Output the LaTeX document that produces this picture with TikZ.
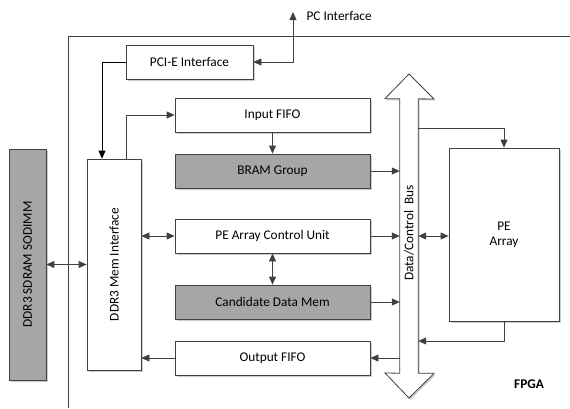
\documentclass[tikz,border=0pt]{standalone}
\usepackage{fontspec}
\setmainfont{Carlito}
\usetikzlibrary{arrows.meta,shadows}
\definecolor{ln}{HTML}{404040}
\definecolor{gfill}{HTML}{A6A6A6}
\begin{document}
\begin{tikzpicture}[x=1pt,y=-1pt,
  font=\fontsize{13.3}{15}\selectfont,
  box/.style={draw=ln,line width=0.8pt,fill=white,inner sep=0pt,
    drop shadow={shadow xshift=1.5pt,shadow yshift=-1.5pt,fill=black,opacity=0.2}},
  gbox/.style={box,fill=gfill},
  arr/.style={draw=ln,line width=0.8pt,-{Triangle[length=8pt,width=7pt]}},
  darr/.style={draw=ln,line width=0.8pt,{Triangle[length=8pt,width=7pt]}-{Triangle[length=8pt,width=7pt]}},
  blk/.style={draw=black,line width=1pt,-{Triangle[length=8pt,width=7pt]}}]
\useasboundingbox (0,0) rectangle (570,408);
% FPGA frame
\draw[ln,line width=0.8pt] (570,36) -- (68,36) -- (68,408);
\node[font=\fontsize{13.3}{15}\selectfont\bfseries] (fpga) at (529,384) {FPGA};
% boxes
\node[box,minimum width=127pt,minimum height=34pt] (pcie) at (189.5,62) {PCI-E Interface};
\node[box,minimum width=195pt,minimum height=34pt] (infifo) at (272.5,115) {Input FIFO};
\node[gbox,minimum width=195pt,minimum height=34pt] (bram) at (272.5,171) {BRAM Group};
\node[box,minimum width=195pt,minimum height=34pt] (pectl) at (272.5,236) {PE Array Control Unit};
\node[gbox,minimum width=195pt,minimum height=34pt] (cand) at (272.5,302) {Candidate Data Mem};
\node[box,minimum width=195pt,minimum height=34pt] (outfifo) at (272.5,358) {Output FIFO};
\node[box,minimum width=54pt,minimum height=211pt] (ddrmem) at (114,264.5) {};
\node[rotate=90] (ddrlbl) at (ddrmem.center) {DDR3 Mem Interface};
\node[gbox,minimum width=37pt,minimum height=231pt] (sodimm) at (27.5,264.5) {};
\node[rotate=90] (sodlbl) at (sodimm.center) {DDR3 SDRAM SODIMM};
\node[box,minimum width=110pt,minimum height=173pt,align=center] (pea) at (504,234.5) {PE\\Array};
% bus
\node[minimum width=18pt,minimum height=274pt,inner sep=0pt] (bus) at (409,236) {};
\draw[ln,line width=0.8pt,fill=white,
  drop shadow={shadow xshift=1.5pt,shadow yshift=-1.5pt,fill=black,opacity=0.2}]
  (bus.north west) -- ++(-15,0) -- (409,74) -- (434,99) -- (bus.north east)
  -- (bus.south east) -- ++(16,0) -- (409,398) -- (385,373) -- (bus.south west) -- cycle;
\node[rotate=90] (buslbl) at (409,233) {Data/Control\ \ Bus};
% PC interface
\coordinate (pc) at (293,12);
\node[anchor=west] (pclbl) at (303,16) {PC Interface};
\draw[darr] (pcie.east) -| (pc);
% connectors
\draw[blk] (pcie.west) -| ([xshift=-12pt]ddrmem.north);
\draw[arr] ([xshift=12pt]ddrmem.north) |- (infifo.west);
\draw[arr] (infifo.south) -- (bram.north);
\draw[darr] (sodimm.east) -- (ddrmem.west);
\draw[darr] (pectl.west -| ddrmem.east) -- (pectl.west);
\draw[darr] (pectl.south) -- (cand.north);
\draw[arr] (outfifo.west) -- (outfifo.west -| ddrmem.east);
\draw[arr] (bram.east) -- (bram.east -| bus.west);
\draw[arr] (pectl.east) -- (pectl.east -| bus.west);
\draw[arr] (cand.east) -- (cand.east -| bus.west);
\draw[arr] (outfifo.east -| bus.west) -- (outfifo.east);
\draw[darr] (bus.east |- pectl.east) -- (bus.east -| pea.west);
\draw[arr] (bus.east |- 0,128) -| (pea.north);
\draw[arr] (pea.south) |- (bus.east |- 0,341);
\end{tikzpicture}
\end{document}
